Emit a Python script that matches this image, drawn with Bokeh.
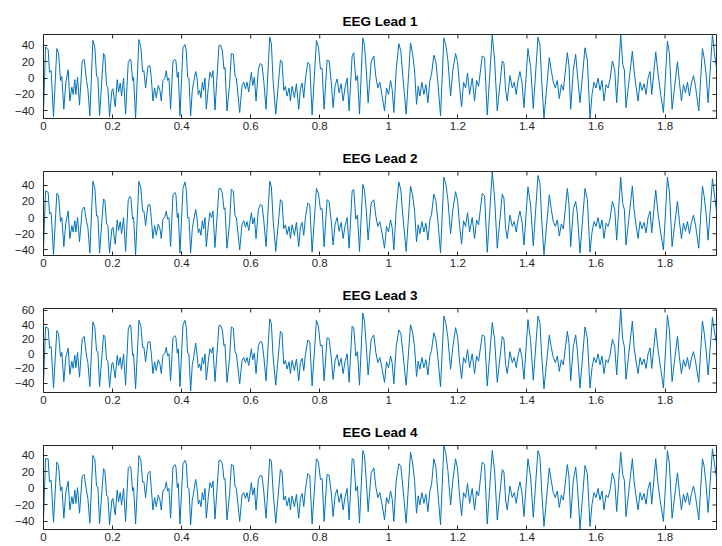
import math
from bokeh.plotting import figure
from bokeh.models import Range1d, FixedTicker
from bokeh.layouts import column
from bokeh.embed import file_html
from bokeh.resources import INLINE

titles = ["EEG Lead 1", "EEG Lead 2", "EEG Lead 3", "EEG Lead 4"]

# time (s) of the traced turning points, shared by the four leads
t_knots = [
    0.000, 0.006, 0.0135, 0.0174, 0.0222, 0.029, 0.0386, 0.0435, 0.0493, 0.0531,
    0.0589, 0.0647, 0.0715, 0.0763, 0.0821, 0.086, 0.0908, 0.0937, 0.0986, 0.1043,
    0.1121, 0.1179, 0.1246, 0.1285, 0.1343, 0.143, 0.1488, 0.1536, 0.1575, 0.1623,
    0.1739, 0.1778, 0.1826, 0.1865, 0.1913, 0.1981, 0.201, 0.2077, 0.2135, 0.2174,
    0.2222, 0.2261, 0.2319, 0.2377, 0.2454, 0.2502, 0.2531, 0.258, 0.2609, 0.2667,
    0.2763, 0.2821, 0.287, 0.2908, 0.2957, 0.3024, 0.3082, 0.3121, 0.3169, 0.3217,
    0.3266, 0.3324, 0.3372, 0.3411, 0.3459, 0.3517, 0.3556, 0.3594, 0.3633, 0.3681,
    0.3749, 0.3807, 0.3836, 0.3874, 0.3903, 0.3952, 0.4039, 0.4097, 0.4135, 0.4174,
    0.4213, 0.4261, 0.4309, 0.4348, 0.4406, 0.4444, 0.4483, 0.4522, 0.456, 0.4599,
    0.4638, 0.4676, 0.4715, 0.4773, 0.4821, 0.487, 0.4908, 0.4966, 0.5082, 0.513,
    0.5179, 0.5227, 0.5256, 0.5314, 0.5391, 0.544, 0.5498, 0.5546, 0.5585, 0.5682,
    0.575, 0.5798, 0.5847, 0.5895, 0.5943, 0.602, 0.6059, 0.6107, 0.6155, 0.6223,
    0.6281, 0.6329, 0.6378, 0.6445, 0.6552, 0.66, 0.6648, 0.6726, 0.6861, 0.6909,
    0.6958, 0.7006, 0.7054, 0.7112, 0.7151, 0.7199, 0.7267, 0.7325, 0.7392, 0.7441,
    0.7489, 0.7537, 0.7585, 0.7653, 0.7711, 0.7779, 0.7904, 0.7962, 0.802, 0.8068,
    0.8126, 0.8213, 0.8271, 0.8329, 0.8387, 0.8445, 0.8503, 0.8561, 0.8619, 0.8677,
    0.8735, 0.8793, 0.8851, 0.8938, 0.8986, 0.9044, 0.9093, 0.9151, 0.9247, 0.9296,
    0.9344, 0.9402, 0.9489, 0.9566, 0.9624, 0.9682, 0.974, 0.9808, 0.9876, 0.9934,
    0.9992, 1.005, 1.0098, 1.0146, 1.0214, 1.0291, 1.0349, 1.0407, 1.0503, 1.0629,
    1.0687, 1.0745, 1.0803, 1.0851, 1.09, 1.0958, 1.1016, 1.1074, 1.1132, 1.119,
    1.1238, 1.1305, 1.1363, 1.1421, 1.1498, 1.1595, 1.1653, 1.1711, 1.1789, 1.1856,
    1.1933, 1.1991, 1.2049, 1.2107, 1.2165, 1.2223, 1.2281, 1.2339, 1.2416, 1.2484,
    1.2542, 1.26, 1.2706, 1.2774, 1.2851, 1.2996, 1.3064, 1.3141, 1.3286, 1.3334,
    1.3383, 1.3431, 1.3508, 1.3576, 1.3634, 1.3692, 1.374, 1.3798, 1.3856, 1.3914,
    1.403, 1.4107, 1.4184, 1.432, 1.4378, 1.4426, 1.4494, 1.4648, 1.4706, 1.4764,
    1.4822, 1.488, 1.4938, 1.4996, 1.5054, 1.517, 1.5218, 1.5267, 1.5344, 1.5412,
    1.546, 1.5537, 1.5682, 1.575, 1.5827, 1.5885, 1.5943, 1.6001, 1.6059, 1.6117,
    1.6175, 1.6233, 1.6291, 1.6349, 1.6407, 1.6474, 1.6542, 1.66, 1.6716, 1.6774,
    1.6822, 1.687, 1.7054, 1.7102, 1.716, 1.7218, 1.7276, 1.7334, 1.7392, 1.745,
    1.7508, 1.7566, 1.7614, 1.773, 1.7798, 1.7875, 1.7953, 1.8069, 1.8127, 1.8204,
    1.8359, 1.8417, 1.8475, 1.8533, 1.8591, 1.8649, 1.8707, 1.8765, 1.8823, 1.8881,
    1.8977, 1.9083, 1.9131, 1.9189, 1.9247, 1.9373, 1.9431, 1.949,
]

lead1 = [
    -40, 38, 35, 7, 9, -47, 36, 30, -3, 2,
    -38, -5, 10, -28, -11, -20, -2, -20, 1, -33,
    21, 23, -3, -13, -46, 46, 37, 2, 1, -46,
    30, 27, -9, -12, -47, -15, -13, -35, -2, -17,
    -6, -22, 0, -44, 19, 23, 22, -3, 1, -49,
    47, 37, 8, 9, -12, 14, 15, 1, -28, -12,
    -24, -9, -15, -28, -3, 0, 9, -3, 0, -38,
    21, 23, 21, 1, 7, -46, 37, 41, 33, 1,
    0, -46, -15, -5, 8, 1, -20, -15, -24, -5,
    -15, 0, -38, -11, 7, 1, 9, -39, 40, 40,
    33, 11, 13, -40, -7, 30, 29, 3, 0, -42,
    -9, -5, -13, -5, -17, 7, -9, 1, -28, 11,
    18, 16, -3, -38, 50, 42, -3, -44, 22, 20,
    -15, -10, -22, -12, -28, -10, -24, -7, -38, -13,
    -6, -24, -1, 19, 17, -45, 46, 38, 11, 12,
    -38, 22, 21, -3, -36, -9, -1, -18, -7, -28,
    -11, 0, -40, 27, 31, -3, 3, -44, 49, 40,
    13, -30, 20, 27, 2, -12, -5, -22, -40, -12,
    -20, -3, -14, -42, 10, 42, 33, 2, -44, 43,
    30, 10, -32, -10, -22, -5, -20, -8, -30, -3,
    5, 28, 20, -5, -46, 49, 40, 22, -22, 10,
    30, 20, -10, -35, -5, -12, 6, -20, 0, -28,
    -3, -10, 27, 25, -45, 53, 22, -40, 21, 18,
    -15, -28, 3, -12, -5, -20, -3, 8, -5, -36,
    36, 14, -37, 50, 40, -2, -49, 25, 9, -5,
    -12, -3, -25, -8, -15, 31, 15, -38, 10, 29,
    5, -30, 37, 22, -49, -20, -5, -12, 0, -15,
    -3, -28, -8, -12, -2, 21, 10, -30, 53, 17,
    10, -36, 33, 9, -10, -28, -5, -15, -7, -20,
    0, 8, -20, 32, 5, -20, -42, 45, 30, -38,
    20, -5, -28, -8, -18, -5, -22, -6, 3, -10,
    -40, 36, 25, 5, -30, 53, 30, 12,
]

lead2 = [
    -38, 33, 31, 5, 6, -46, 30, 27, -5, 0,
    -36, -6, 8, -26, -10, -18, -4, -18, 0, -30,
    10, 13, -5, -12, -44, 45, 36, 2, 2, -44,
    23, 21, -8, -10, -44, -14, -12, -33, -3, -16,
    -5, -20, 0, -42, 22, 26, 24, -2, 0, -46,
    45, 36, 8, 8, -10, 15, 16, 0, -26, -10,
    -22, -8, -14, -26, -2, 1, 8, -2, 0, -36,
    28, 31, 28, 0, 5, -44, 36, 44, 34, 0,
    0, -44, -14, -4, 10, 0, -19, -14, -22, -4,
    -14, 0, -36, -10, 6, 0, 8, -37, 36, 36,
    30, 10, 12, -38, -6, 35, 33, 2, 0, -40,
    -8, -4, -12, -5, -16, 6, -8, 0, -26, 10,
    16, 15, -3, -36, 45, 38, -2, -42, 22, 20,
    -14, -9, -21, -11, -26, -9, -22, -6, -36, -12,
    -6, -22, 0, 18, 16, -43, 36, 30, 10, 11,
    -36, 22, 20, -3, -34, -8, 0, -17, -6, -26,
    -10, 0, -38, 33, 35, -2, 3, -42, 41, 34,
    11, -28, 18, 22, 2, -11, -5, -20, -38, -11,
    -18, -3, -13, -40, 10, 44, 34, 2, -42, 39,
    28, 9, -30, -9, -20, -5, -18, -7, -28, -3,
    4, 29, 21, -4, -44, 50, 41, 22, -20, 10,
    32, 21, -9, -33, -4, -11, 6, -18, 0, -26,
    -3, -9, 30, 27, -43, 57, 24, -38, 29, 24,
    -14, -26, 3, -11, -5, -18, -3, 8, -5, -34,
    38, 15, -35, 52, 42, -2, -46, 28, 10, -5,
    -11, -3, -23, -8, -14, 36, 16, -36, 10, 20,
    5, -44, 36, 22, -43, -18, -5, -11, 0, -14,
    -3, -26, -7, -11, -2, 20, 10, -28, 50, 17,
    10, -34, 39, 10, -9, -26, -5, -14, -6, -19,
    0, 8, -19, 34, 5, -19, -40, 50, 32, -36,
    20, -5, -26, -7, -17, -5, -20, -6, 3, -9,
    -38, 39, 27, 5, -28, 48, 28, 8,
]

lead3 = [
    -40, 37, 35, 8, 10, -47, 32, 28, -4, 2,
    -38, -4, 8, -28, -10, -20, -2, -19, 2, -32,
    20, 24, -3, -12, -45, 44, 36, 4, 3, -45,
    26, 24, -8, -10, -46, -13, -12, -33, -2, -16,
    -5, -21, 0, -43, 33, 40, 38, -2, 0, -48,
    46, 38, 9, 9, -11, 16, 17, 1, -27, -11,
    -23, -8, -14, -27, -2, 1, 9, -3, 0, -37,
    22, 25, 22, 1, 7, -45, 40, 46, 36, 1,
    0, -51, -15, -5, 15, 1, -19, -14, -23, -5,
    -14, 0, -36, -10, 7, 1, 9, -38, 39, 39,
    33, 11, 13, -39, -6, 37, 35, 3, 0, -41,
    -9, -5, -12, -5, -16, 7, -8, 1, -27, 11,
    17, 16, -3, -37, 48, 41, -3, -43, 31, 28,
    -14, -9, -21, -11, -27, -9, -23, -7, -37, -12,
    -6, -23, -1, 19, 17, -44, 46, 38, 11, 12,
    -37, 22, 21, -3, -35, -9, -1, -17, -6, -27,
    -10, 0, -39, 38, 36, -3, 3, -43, 56, 45,
    13, -29, 20, 26, 2, -12, -5, -21, -39, -11,
    -19, -3, -13, -41, 10, 33, 28, 2, -43, 40,
    30, 10, -31, -10, -21, -5, -19, -8, -29, -3,
    5, 29, 20, -5, -45, 52, 42, 22, -21, 10,
    36, 24, -10, -34, -5, -12, 6, -19, 0, -27,
    -3, -10, 26, 24, -44, 43, 20, -39, 24, 20,
    -15, -27, 3, -12, -5, -19, -3, 8, -5, -35,
    47, 18, -36, 52, 42, -2, -48, 26, 9, -5,
    -12, -3, -24, -8, -15, 31, 15, -37, 10, 26,
    5, -47, 37, 22, -47, -19, -5, -12, 0, -15,
    -3, -27, -8, -12, -2, 20, 10, -29, 62, 20,
    10, -35, 45, 10, -10, -27, -5, -15, -7, -20,
    0, 8, -20, 35, 5, -20, -47, 53, 32, -38,
    24, -5, -27, -8, -18, -5, -21, -6, 3, -10,
    -39, 45, 30, 5, -29, 50, 30, 15,
]

lead4 = [
    -38, 36, 36, 8, 10, -41, 32, 28, -3, 2,
    -36, -4, 9, -26, -10, -19, -2, -18, 1, -30,
    15, 17, -3, -12, -42, 40, 35, 3, 2, -43,
    24, 22, -8, -10, -44, -14, -12, -32, -2, -16,
    -5, -20, 0, -40, 25, 27, 25, -3, 1, -43,
    40, 34, 8, 8, -11, 18, 21, 1, -26, -11,
    -22, -8, -14, -26, -3, 0, 8, -3, 0, -36,
    26, 29, 26, 1, 6, -43, 30, 34, 30, 1,
    0, -44, -14, -5, 11, 1, -19, -14, -22, -5,
    -14, 0, -36, -10, 7, 1, 9, -37, 34, 34,
    30, 11, 12, -38, -6, 29, 28, 3, 0, -40,
    -8, -5, -12, -5, -16, 7, -8, 1, -26, 11,
    16, 15, -3, -36, 36, 33, -3, -42, 23, 20,
    -14, -9, -21, -11, -26, -9, -22, -7, -36, -12,
    -6, -22, -1, 18, 16, -43, 36, 32, 11, 12,
    -40, 17, 16, -3, -34, -8, -1, -17, -6, -26,
    -10, 0, -38, 36, 35, -3, 3, -42, 46, 40,
    12, -28, 19, 25, 2, -11, -5, -20, -38, -11,
    -18, -3, -13, -40, 10, 30, 27, 2, -42, 44,
    32, 10, -30, -9, -20, -5, -18, -7, -28, -3,
    5, 36, 26, -5, -44, 52, 42, 22, -20, 10,
    36, 24, -9, -33, -5, -11, 6, -18, 0, -26,
    -3, -9, 32, 29, -43, 46, 21, -38, 23, 20,
    -14, -26, 3, -11, -5, -18, -3, 8, -5, -34,
    36, 14, -35, 46, 38, -2, -46, 25, 9, -5,
    -11, -3, -23, -8, -14, 29, 14, -36, 10, 26,
    5, -49, 28, 18, -46, -19, -5, -11, 0, -14,
    -3, -26, -8, -11, -2, 19, 9, -28, 44, 17,
    10, -34, 36, 9, -9, -26, -5, -14, -6, -19,
    0, 8, -19, 36, 5, -19, -40, 46, 30, -36,
    19, -5, -26, -7, -17, -5, -20, -6, 3, -9,
    -38, 36, 27, 5, -29, 48, 30, 13,
]

leads = [lead1, lead2, lead3, lead4]

y_limits = [(-49.3, 53.2), (-47.0, 57.0), (-53.0, 62.3), (-49.7, 52.1)]
x_limits = (0.0, 1.949)
x_ticks = [0, 0.2, 0.4, 0.6, 0.8, 1.0, 1.2, 1.4, 1.6, 1.8]
x_tick_labels = ["0", "0.2", "0.4", "0.6", "0.8", "1", "1.2", "1.4", "1.6", "1.8"]
y_ticks = [-40, -20, 0, 20, 40, 60]

LINE = "#0072BD"
AX = "#262626"
FONT = "Liberation Sans"
TICK_LEN = 4


def style_axis(ax, ticks, overrides=None):
    ax.ticker = FixedTicker(ticks=ticks)
    ax.major_tick_in = TICK_LEN
    ax.major_tick_out = 0
    ax.minor_tick_line_color = None
    ax.major_tick_line_color = AX
    ax.axis_line_color = AX
    if overrides:
        ax.major_label_overrides = overrides
    ax.major_label_text_font = FONT
    ax.major_label_text_font_size = "11.5px"
    ax.major_label_text_color = AX


def make_plot(i, last):
    top, frame = 34, 84
    bottom = 17 if last else 19
    lo, hi = y_limits[i]
    p = figure(width=722, height=top + frame + bottom,
               output_backend="svg", toolbar_location=None,
               x_range=Range1d(*x_limits), y_range=Range1d(lo, hi),
               min_border_left=43, min_border_right=6,
               min_border_top=top, min_border_bottom=bottom)
    p.line(t_knots, leads[i], line_color=LINE, line_width=1)

    # mirrored inward ticks on the top and right edges of the box
    p.ray(x=x_ticks, y=[hi] * len(x_ticks), length=TICK_LEN, length_units="screen",
          angle=-math.pi / 2, line_color=AX, line_width=1)
    yt_in = [v for v in y_ticks if lo <= v <= hi]
    p.ray(x=[x_limits[1]] * len(yt_in), y=yt_in, length=TICK_LEN, length_units="screen",
          angle=math.pi, line_color=AX, line_width=1)

    p.title.text = titles[i]
    p.title.align = "center"
    p.title.text_font = FONT
    p.title.text_font_size = "13.5px"
    p.title.text_font_style = "bold"
    p.title.text_color = "#000000"
    p.title.standoff = 11
    p.grid.visible = False
    p.outline_line_color = AX
    p.outline_line_alpha = 1
    p.background_fill_color = "white"
    p.border_fill_color = "white"

    overrides = {x: s for x, s in zip(x_ticks, x_tick_labels)}
    style_axis(p.xaxis[0], x_ticks, overrides)
    p.xaxis[0].major_label_standoff = 3
    style_axis(p.yaxis[0], y_ticks)
    p.yaxis[0].major_label_standoff = 9
    return p


plots = [make_plot(i, i == 3) for i in range(4)]
layout = column(*plots)

open("out.html", "w").write(file_html(layout, INLINE))
